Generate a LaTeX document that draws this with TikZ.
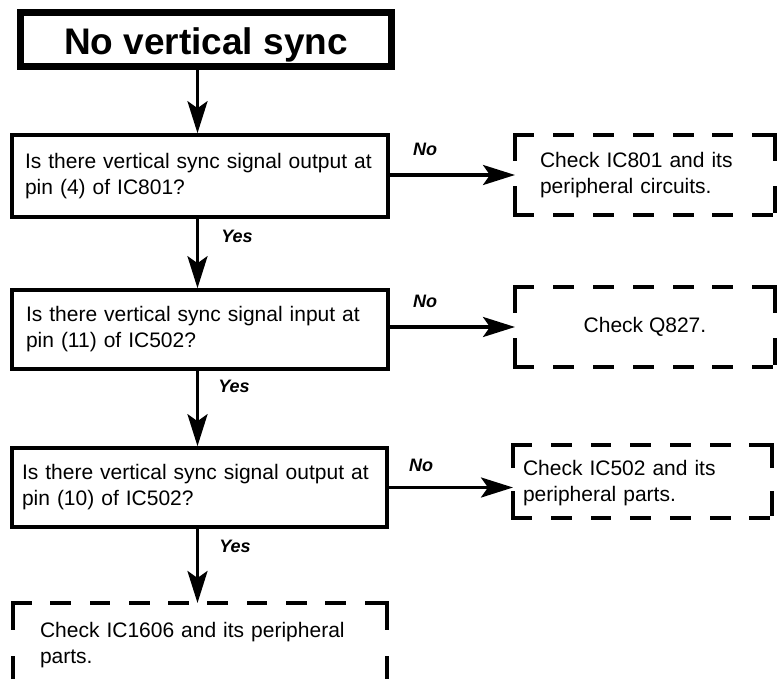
\documentclass[tikz,border=0pt]{standalone}
\usepackage{fontspec}
\setmainfont{Liberation Sans}
\usetikzlibrary{arrows.meta}
\newcommand\mydashpat[1]{%
  \pgfmathsetmacro\myDN{max(1,floor((#1+18)/38))}%
  \pgfmathsetmacro\myDS{#1/(\myDN*20+(\myDN-1)*18)}%
  \pgfmathsetmacro\myDOn{20*\myDS-3.6}%
  \pgfmathsetmacro\myDOff{18*\myDS+3.6}%
}
\newcommand\dashedframe[3]{%
  \mydashpat{#2}%
  \draw[dline,dash pattern=on \myDOn pt off \myDOff pt] (#1.north west) -- (#1.north east);
  \draw[dline,dash pattern=on \myDOn pt off \myDOff pt] (#1.south west) -- (#1.south east);
  \mydashpat{#3}%
  \draw[dline,dash pattern=on \myDOn pt off \myDOff pt] (#1.north west) -- (#1.south west);
  \draw[dline,dash pattern=on \myDOn pt off \myDOff pt] (#1.north east) -- (#1.south east);
}
\tikzset{
  txt/.style={font=\fontsize{21}{26}\selectfont},
  tbox/.style={draw, line width=7pt, minimum width=371pt, minimum height=54pt, inner sep=0pt,
    font=\fontsize{37}{40}\selectfont\bfseries, text height=31pt, text depth=0pt},
  qbox/.style={txt, draw, line width=3.6pt, inner sep=0pt, align=left},
  dnode/.style={txt, inner sep=0pt, outer sep=0pt, align=left},
  dline/.style={line width=3.6pt, line cap=rect},
  lbl/.style={font=\fontsize{18}{20}\selectfont\bfseries\itshape, inner sep=0pt},
  arr/.style={line width=3.5pt, -{Stealth[length=32pt,width=20pt,inset=7pt]}},
}
\begin{document}
\begin{tikzpicture}[x=1pt, y=-1pt]
\useasboundingbox (0,0) rectangle (777,679);
\clip (0,0) rectangle (777,679);
\coordinate (ax) at (197.5,0);

\node[tbox] (t) at (206,39.5) {No vertical sync};

\node[qbox, minimum width=376pt, minimum height=82pt, text width=350pt] (b1) at (200,176)
  {Is there vertical sync signal output at\\pin (4) of IC801?};
\node[qbox, minimum width=376pt, minimum height=79pt, text width=348pt] (b2) at (200,329.5)
  {Is there vertical sync signal input at\\pin (11) of IC502?};
\node[qbox, minimum width=375pt, minimum height=79pt, text width=355pt] (b3) at (199.5,487.5)
  {Is there vertical sync signal output at\\pin (10) of IC502?};

\node[dnode, minimum width=260pt, minimum height=80pt, text width=210pt] (d1) at (645,175)
  {Check IC801 and its\\peripheral circuits.};
\node[dnode, minimum width=260pt, minimum height=80pt, align=center] (d2) at (645,327)
  {Check Q827.};
\node[dnode, minimum width=259pt, minimum height=73pt, text width=239pt] (d3) at (642.5,481.5)
  {\rule{0pt}{19pt}Check IC502 and its\\peripheral parts.};
\node[dnode, minimum width=374pt, minimum height=84pt, text width=320pt] (d4) at (200,645)
  {Check IC1606 and its peripheral\\parts.};

\dashedframe{d1}{260}{80}
\dashedframe{d2}{260}{80}
\dashedframe{d3}{259}{73}
\dashedframe{d4}{374}{84}

\node[lbl] (n1) at (425,149) {No};
\node[lbl] (n2) at (425,301) {No};
\node[lbl] (n3) at (421,465) {No};
\node[lbl] (y1) at (237,236.5) {Yes};
\node[lbl] (y2) at (234,386.5) {Yes};
\node[lbl] (y3) at (235,546.5) {Yes};

\draw[arr] (t.south -| ax) -- (b1.north -| ax);
\draw[arr] (b1.south -| ax) -- (b2.north -| ax);
\draw[arr] (b2.south -| ax) -- (b3.north -| ax);
\draw[arr] (b3.south -| ax) -- (d4.north -| ax);

\draw[arr] (b1.east |- d1.west) -- (d1.west);
\draw[arr] (b2.east |- d2.west) -- (d2.west);
\draw[arr] (b3.east) -- (b3.east -| d3.west);
\end{tikzpicture}
\end{document}
